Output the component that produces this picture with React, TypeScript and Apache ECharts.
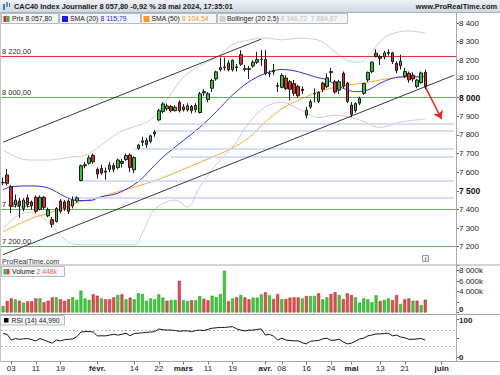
import React, { useEffect, useRef } from 'react';
import * as echarts from 'echarts';

// ---------- DATA ----------
const dates = [
  '2023-12-29',
  '2024-01-02', '2024-01-03', '2024-01-04', '2024-01-05',
  '2024-01-08', '2024-01-09', '2024-01-10', '2024-01-11', '2024-01-12',
  '2024-01-15', '2024-01-16', '2024-01-17', '2024-01-18', '2024-01-19',
  '2024-01-22', '2024-01-23', '2024-01-24', '2024-01-25', '2024-01-26',
  '2024-01-29', '2024-01-30', '2024-01-31', '2024-02-01', '2024-02-02',
  '2024-02-05', '2024-02-06', '2024-02-07', '2024-02-08', '2024-02-09',
  '2024-02-12', '2024-02-13', '2024-02-14', '2024-02-15', '2024-02-16',
  '2024-02-19', '2024-02-20', '2024-02-21', '2024-02-22', '2024-02-23',
  '2024-02-26', '2024-02-27', '2024-02-28', '2024-02-29', '2024-03-01',
  '2024-03-04', '2024-03-05', '2024-03-06', '2024-03-07', '2024-03-08',
  '2024-03-11', '2024-03-12', '2024-03-13', '2024-03-14', '2024-03-15',
  '2024-03-18', '2024-03-19', '2024-03-20', '2024-03-21', '2024-03-22',
  '2024-03-25', '2024-03-26', '2024-03-27', '2024-03-28',
  '2024-04-02', '2024-04-03', '2024-04-04', '2024-04-05',
  '2024-04-08', '2024-04-09', '2024-04-10', '2024-04-11', '2024-04-12',
  '2024-04-15', '2024-04-16', '2024-04-17', '2024-04-18', '2024-04-19',
  '2024-04-22', '2024-04-23', '2024-04-24', '2024-04-25', '2024-04-26',
  '2024-04-29', '2024-04-30', '2024-05-02', '2024-05-03',
  '2024-05-06', '2024-05-07', '2024-05-08', '2024-05-09', '2024-05-10',
  '2024-05-13', '2024-05-14', '2024-05-15', '2024-05-16', '2024-05-17',
  '2024-05-20', '2024-05-21', '2024-05-22', '2024-05-23', '2024-05-24',
  '2024-05-27', '2024-05-28',
  '2024-05-29', '2024-05-30', '2024-05-31', '2024-06-03', '2024-06-04', '2024-06-05', '2024-06-06',
];

const opens = [
  7545, 7585, 7522, 7425, 7445, 7405, 7462, 7440, 7465, 7400,
  7465, 7365, 7345, 7335, 7445, 7440, 7445, 7418, 7445, 7555,
  7634, 7648, 7690, 7615, 7620, 7600, 7615, 7635, 7625, 7658,
  7668, 7692, 7612, 7728, 7760, 7770, 7765, 7805, 7880, 7925,
  7940, 7952, 7930, 7975, 7950, 7935, 7952, 7935, 7920, 8025,
  7990, 8050, 8100, 8150, 8160, 8185, 8150, 8165, 8230, 8155,
  8155, 8170, 8190, 8204, 8205, 8128, 8145, 8065, 8055, 8105,
  8085, 8075, 8060, 8038, 7905, 7950, 8020, 7980, 8077, 8059,
  8135, 8085, 8040, 8130, 8077, 7960, 7930, 7970, 8023, 8095,
  8139, 8238, 8220, 8218, 8242, 8240, 8184, 8172, 8115, 8130,
  8120, 8060, 8080, 8135,
];
const highs = [
  7570, 7617, 7530, 7480, 7462, 7460, 7480, 7448, 7475, 7475,
  7472, 7410, 7360, 7412, 7455, 7450, 7455, 7470, 7470, 7640,
  7655, 7690, 7700, 7625, 7640, 7625, 7655, 7650, 7672, 7670,
  7700, 7700, 7685, 7752, 7790, 7785, 7800, 7825, 7940, 7975,
  7968, 7960, 7960, 7985, 7965, 7970, 7960, 7970, 8030, 8045,
  8030, 8100, 8145, 8215, 8215, 8200, 8205, 8180, 8255, 8175,
  8170, 8200, 8246, 8255, 8255, 8145, 8180, 8080, 8130, 8120,
  8095, 8095, 8070, 8060, 7950, 7990, 8050, 8035, 8085, 8130,
  8160, 8095, 8095, 8140, 8085, 7975, 7975, 8005, 8080, 8140,
  8195, 8260, 8229, 8250, 8259, 8245, 8195, 8230, 8160, 8140,
  8135, 8100, 8140, 8150,
];
const lows = [
  7530, 7528, 7381, 7410, 7355, 7390, 7410, 7398, 7380, 7395,
  7400, 7358, 7303, 7330, 7378, 7392, 7375, 7405, 7435, 7550,
  7620, 7640, 7645, 7565, 7585, 7560, 7600, 7600, 7615, 7625,
  7660, 7600, 7595, 7720, 7740, 7730, 7755, 7790, 7875, 7915,
  7930, 7920, 7925, 7920, 7925, 7925, 7915, 7920, 7915, 8010,
  7975, 8030, 8090, 8140, 8145, 8140, 8140, 8140, 8170, 8140,
  8100, 8160, 8180, 8170, 8120, 8110, 8120, 8030, 8050, 8040,
  7985, 8010, 8000, 8020, 7890, 7940, 7975, 7970, 8030, 8050,
  8085, 8020, 8020, 8050, 7970, 7895, 7920, 7960, 8015, 8085,
  8130, 8215, 8175, 8205, 8225, 8180, 8130, 8150, 8105, 8080,
  8085, 8050, 8075, 8045,
];
const closes = [
  7543, 7540, 7416, 7450, 7420, 7450, 7426, 7420, 7390, 7465,
  7411, 7398, 7320, 7405, 7390, 7405, 7390, 7450, 7462, 7634,
  7640, 7677, 7656, 7590, 7595, 7605, 7638, 7615, 7665, 7647,
  7689, 7625, 7678, 7745, 7768, 7748, 7795, 7815, 7930, 7966,
  7955, 7930, 7948, 7930, 7934, 7956, 7930, 7958, 8020, 8032,
  8020, 8092, 8138, 8161, 8164, 8150, 8200, 8161, 8179, 8152,
  8151, 8190, 8204, 8206, 8130, 8131, 8138, 8061, 8119, 8048,
  8045, 8023, 8010, 8045, 7932, 7978, 8023, 8028, 8045, 8106,
  8140, 8030, 8085, 8060, 7980, 7910, 7968, 7996, 8075, 8135,
  8190, 8220, 8211, 8240, 8238, 8193, 8145, 8195, 8140, 8095,
  8100, 8094, 8132.5, 8057.8,
];

// volume in thousands
const volumes = [
  1250, 2200, 2700, 2500, 2260, 1880, 2140, 2140, 2700, 2700,
  1950, 2260, 2900, 2900, 2530, 2260, 2530, 2900, 2400, 4180,
  2700, 2400, 3480, 3220, 2700, 2530, 2530, 2900, 3350, 3480,
  2530, 2850, 2530, 3680, 3540, 2260, 2700, 2530, 3480, 2850,
  2260, 2400, 2400, 6090, 2330, 2200, 2330, 2330, 3160, 2640,
  2330, 3220, 2900, 3540, 8000, 2140, 2700, 2900, 3350, 2900,
  2530, 2850, 2850, 3480, 3870, 3290, 2580, 3540, 2580, 2580,
  2850, 2900, 2900, 2700, 3160, 3160, 3160, 3680, 2530, 2900,
  3540, 3870, 3350, 2580, 3680, 3350, 2900, 1880, 2700, 2530,
  1950, 3290, 2200, 2400, 2700, 2400, 3350, 1630, 2530, 2700,
  2260, 2260, 1440, 2448,
];
// 1 = green volume bar, 0 = red volume bar
const volumeUp = [
  1, 0, 0, 1, 0, 1, 0, 0, 0, 1,
  0, 0, 0, 1, 0, 0, 0, 1, 1, 1,
  1, 1, 0, 0, 1, 0, 0, 0, 1, 0,
  1, 0, 1, 1, 1, 1, 1, 1, 1, 1,
  0, 1, 1, 0, 1, 1, 0, 1, 1, 0,
  0, 1, 1, 1, 1, 0, 1, 0, 1, 0,
  0, 1, 1, 1, 0, 1, 0, 0, 1, 0,
  0, 0, 0, 1, 0, 1, 1, 0, 1, 1,
  0, 0, 1, 0, 0, 0, 1, 1, 1, 1,
  1, 1, 0, 1, 1, 0, 0, 1, 0, 0,
  1, 0, 1, 0,
];

const rsi = [
  62, 60, 45, 49, 47, 48, 49, 46, 43, 49,
  45, 41, 37, 45, 43, 46, 47, 48, 54, 66,
  67, 67, 66, 56, 56, 56, 58, 60, 58, 60,
  63, 56, 62, 63, 64, 65, 66, 67, 74, 72,
  71, 71, 70, 68, 69, 69, 67, 70, 71, 70,
  73, 76, 77, 78, 78, 79, 80, 74, 71, 69,
  71, 71, 73, 74, 58, 60, 55, 45, 50, 45,
  44, 43, 43, 38, 35, 42, 43, 44, 48, 50,
  44, 45, 47, 40, 35, 37, 42, 48, 50, 56,
  58, 61, 61, 62, 63, 56, 58, 53, 51, 47,
  47, 48, 49, 44.99,
];

// indicator curves: [bar index, value]
const sma20 = [
  [0, 7505], [2, 7522], [7, 7526], [11, 7515], [15, 7470], [18, 7448], [21, 7447],
  [24, 7468], [28, 7487], [33, 7549], [36, 7615], [38, 7660], [40, 7700], [44, 7770],
  [48, 7840], [52, 7924], [56, 8014], [60, 8085], [64, 8130], [68, 8151], [72, 8139],
  [76, 8112], [79, 8095], [82, 8059], [84, 8041], [86, 8032], [89, 8041], [92, 8077],
  [95, 8104], [98, 8112], [101, 8112], [103, 8115.79],
];
const sma50 = [
  [0, 7280], [7, 7353], [11, 7379], [15, 7412], [19, 7442], [24, 7468], [28, 7495],
  [32, 7519], [38, 7562], [44, 7615], [48, 7652], [52, 7690], [55, 7719], [60, 7785],
  [64, 7870], [68, 7940], [72, 7985], [76, 8023], [80, 8050], [84, 8068], [88, 8077],
  [92, 8095], [96, 8107], [100, 8112], [103, 8104.54],
];
const bbUpper = [
  [0, 7719], [4, 7675], [7, 7665], [11, 7665], [16, 7680], [20, 7690], [24, 7745],
  [28, 7810], [32, 7845], [36, 7880], [40, 7990], [44, 8110], [48, 8170], [52, 8215],
  [56, 8285], [60, 8309], [64, 8320], [68, 8310], [72, 8318], [77, 8308], [81, 8245],
  [84, 8200], [87, 8190], [90, 8250], [93, 8320], [96, 8350], [99, 8357], [103, 8346.72],
];
const bbLower = [
  [0, 7300], [4, 7372], [7, 7385], [11, 7330], [16, 7225], [20, 7210], [24, 7210],
  [32, 7210], [34, 7273], [37, 7400], [42, 7450], [45, 7413], [48, 7520], [52, 7640],
  [56, 7735], [60, 7864], [64, 7950], [68, 7975], [72, 7940], [77, 7893], [81, 7905],
  [87, 7880], [92, 7840], [97, 7869], [103, 7884.87],
];

// drawn levels
const keyLevels = [8220, 8000, 7400, 7200];
const keyLevelIsResistance = [true, false, false, false];
const supportStartDates = ['2024-02-22', '2024-02-21', '2024-02-14', '2024-02-27', '2024-01-26', '2024-01-24'];
const supportPrices = [7857, 7821, 7728, 7683, 7554, 7465];
const channelUpper = [['2023-12-29', 7761], ['2024-03-28', 8314]];
const channelLower = [['2023-12-29', 7157], ['2024-06-06', 8120]];
const arrowPath = [['2024-05-28', 8057.8], ['2024-06-03', 7885]];

const tickLabels: Record<string, string> = {
  '2024-01-03': '03', '2024-01-11': '11', '2024-01-19': '19', '2024-02-01': 'févr.',
  '2024-02-14': '14', '2024-02-22': '22', '2024-03-01': 'mars', '2024-03-11': '11',
  '2024-03-19': '19', '2024-04-02': 'avr.', '2024-04-08': '08', '2024-04-16': '16',
  '2024-04-24': '24', '2024-05-02': 'mai', '2024-05-13': '13', '2024-05-21': '21',
  '2024-06-03': 'juin',
};
const monthNames = ['févr.', 'mars', 'avr.', 'mai', 'juin'];

// ---------- helpers ----------
const FONT = '"Liberation Sans", Arial, Helvetica, sans-serif';

function fmt(v: number, dec = 0): string {
  const s = Math.abs(v).toFixed(dec);
  const parts = s.split('.');
  const int = parts[0].replace(/\B(?=(\d{3})+(?!\d))/g, ' ');
  return (v < 0 ? '-' : '') + (parts[1] ? int + ',' + parts[1] : int);
}

function buildOption(): any {
  const last = closes.length - 1;
  const lastClose = closes[last];
  const pct = (lastClose / closes[last - 1] - 1) * 100;
  const lastOf = (a: number[][]) => a[a.length - 1][1];

  const GREEN = '#33c433';
  const RED = '#e02a2a';
  const LEG = 6.8;

  const T = (x: number, y: number, text: string, extra: any = {}) => ({
    type: 'text', x, y, z: 101, silent: true,
    style: { text, fontSize: LEG, fontFamily: FONT, fill: '#222', verticalAlign: 'middle', align: 'left', ...extra },
  });
  const RT = (x: number, y: number, text: string, rich: any) => ({
    type: 'text', x, y, z: 101, silent: true,
    style: { text, fontSize: LEG, fontFamily: FONT, fill: '#222', verticalAlign: 'middle', align: 'left', rich },
  });
  const R = (x: number, y: number, w: number, h: number, style: any) => ({
    type: 'rect', z: 100, silent: true, shape: { x, y, width: w, height: h }, style,
  });
  const L = (x1: number, y1: number, x2: number, y2: number, stroke: string) => ({
    type: 'line', z: 100, silent: true, shape: { x1, y1, x2, y2 }, style: { stroke, lineWidth: 1 },
  });
  const boxStyle = { fill: '#f4f5f6', stroke: '#b3bbc3', lineWidth: 1 };
  const rs = (fill: string) => ({ fill, fontSize: LEG, fontFamily: FONT });

  const graphics: any[] = [
    // title bar
    R(0, 0, 500, 12, {
      fill: { type: 'linear', x: 0, y: 0, x2: 0, y2: 1, colorStops: [{ offset: 0, color: '#eef2f6' }, { offset: 1, color: '#cfd8e1' }] },
    }),
    L(0, 12.5, 500, 12.5, '#a9b3bd'),
    R(3, 4, 2, 6, { fill: '#3d74c0' }),
    R(6, 2, 2, 5, { fill: '#5a8fd6' }),
    R(9, 3, 1, 4, { fill: '#3d74c0' }),
    T(14, 6.5, `CAC40 Index Journalier ${fmt(lastClose, 2)} ${fmt(pct, 2)} % 28 mai 2024, 17:35:01`, { fontWeight: 'bold', fontSize: 7.4, fill: '#1b1b1b' }),
    T(497, 6.5, 'www.ProRealTime.com', { fontWeight: 'bold', fontSize: 7.4, fill: '#1b1b1b', align: 'right' }),

    // legend row
    R(1.5, 13.5, 57, 10, boxStyle),
    R(3.5, 16, 3, 6, { fill: '#d42a2a' }),
    R(6.5, 16, 3, 6, { fill: '#3cb83c' }),
    T(12, 18.8, `Prix ${fmt(lastClose, 2)}`),
    R(59.5, 13.5, 81, 10, boxStyle),
    R(62, 16, 6, 6, { fill: '#1a1aff' }),
    RT(70, 18.8, `{a|SMA (20)} {b|${fmt(lastOf(sma20), 2)}}`, { a: rs('#222'), b: rs('#2323ff') }),
    R(141.5, 13.5, 75, 10, boxStyle),
    R(143.5, 16, 6, 6, { fill: '#ff9a1a' }),
    RT(151.5, 18.8, `{a|SMA (50)} {b|${fmt(lastOf(sma50), 2)}}`, { a: rs('#222'), b: rs('#f39a27') }),
    R(217.5, 13.5, 130, 10, boxStyle),
    R(219.5, 16, 6, 6, { fill: '#d0d0d0' }),
    RT(227, 18.8, `{a|Bollinger (20 2,5)} {b|${fmt(lastOf(bbUpper), 2)}  ${fmt(lastOf(bbLower), 2)}}`, { a: rs('#222'), b: rs('#c2c2c2') }),

    // watermark + info icon
    T(2, 261.5, 'ProRealTime.com', { fontSize: 7.2, fill: '#333', z: 90 }),
    R(422.5, 255.5, 6, 6, { fill: '#eeeeee', stroke: '#9a9a9a', lineWidth: 1 }),
    T(425.5, 258.8, 'i', { fontSize: 6, fill: '#777', align: 'center', fontWeight: 'bold' }),

    // volume legend
    R(1.5, 266.5, 63, 10, boxStyle),
    R(3.5, 269, 3, 5.5, { fill: '#3cb83c' }),
    R(6.5, 269, 3, 5.5, { fill: '#d84444' }),
    RT(12, 271.8, `{a|Volume} {b|${fmt(volumes[volumes.length - 1], 0)}k}`, { a: rs('#222'), b: rs('#e46a6a') }),

    // RSI legend
    R(0.5, 315.5, 64, 9.5, boxStyle),
    R(4, 318, 4.5, 4.5, { fill: '#000' }),
    T(11.5, 320.5, `RSI (14) ${fmt(rsi[rsi.length - 1], 3)}`),

    // panel separators / frames
    L(0, 265, 500, 265, '#a8a8a8'),
    L(0, 314.5, 500, 314.5, '#a8a8a8'),
    L(456, 361.5, 500, 361.5, '#a8a8a8'),
    L(456.5, 12.5, 456.5, 362, '#a8a8a8'),
    L(0.5, 12.5, 0.5, 362, '#c4c4c4'),
  ];

  const xCat = (gridIndex: number) => ({
    type: 'category', gridIndex, data: dates, boundaryGap: true,
    axisLine: { show: false }, axisTick: { show: false }, axisLabel: { show: false }, splitLine: { show: false },
  });
  const tickFilter = (_i: number, v: string) => !!tickLabels[v];

  const guideLines: any[] = [];
  keyLevels.forEach((lv, i) => {
    guideLines.push({
      yAxis: lv,
      lineStyle: { color: keyLevelIsResistance[i] ? '#e63232' : '#62b062', width: 1, type: 'solid' },
      label: {
        show: true, position: 'insideStartTop', distance: [1, 1], formatter: fmt(lv, 2),
        fontSize: 7.5, color: '#2a2a2a', fontFamily: FONT,
      },
    });
  });
  supportStartDates.forEach((d, i) => {
    guideLines.push([
      { coord: [d, supportPrices[i]], lineStyle: { color: '#c7d5f6', width: 1.5, type: 'solid' }, label: { show: false } },
      { coord: ['2024-06-06', supportPrices[i]] },
    ]);
  });
  [channelUpper, channelLower].forEach((c) => {
    guideLines.push([
      { coord: c[0], lineStyle: { color: '#3a3a3a', width: 1, type: 'solid' }, label: { show: false } },
      { coord: c[1] },
    ]);
  });

  return {
    animation: false,
    textStyle: { fontFamily: FONT },
    grid: [
      { left: 1, right: 44, top: 4.42, height: 260.9 },
      { left: 1, right: 44, top: 265.5, height: 47 },
      { left: 1, right: 44, top: 319, height: 38.3 },
      { left: 1, right: 44, top: 355, height: 6.5 },
    ],
    xAxis: [
      xCat(0), xCat(1), xCat(2),
      {
        type: 'category', gridIndex: 3, data: dates, boundaryGap: true,
        axisLine: { show: true, lineStyle: { color: '#a8a8a8', width: 1 } },
        axisTick: { show: true, interval: tickFilter, alignWithLabel: true, length: 3, lineStyle: { color: '#777' } },
        axisLabel: {
          show: true, interval: tickFilter, margin: 3, fontSize: 8, color: '#222', fontFamily: FONT,
          formatter: (v: string) => {
            const t = tickLabels[v] || '';
            return monthNames.includes(t) ? `{m|${t}}` : t;
          },
          rich: { m: { fontWeight: 'bold', fontSize: 8, color: '#222', fontFamily: FONT } },
        },
        splitLine: { show: false },
      },
    ],
    yAxis: [
      {
        type: 'value', gridIndex: 0, position: 'right', min: 7100, max: 8500, interval: 100,
        splitLine: { show: false }, axisLine: { show: false },
        axisTick: { show: true, length: 3, lineStyle: { color: '#666' } },
        axisLabel: {
          fontSize: 8, color: '#222', margin: 3, fontFamily: FONT,
          formatter: (v: number) => {
            if (v <= 7100 || v >= 8500) return '';
            if (v === 8100) return `{u|${fmt(v)}}`;
            return v === 8000 || v === 7500 ? `{b|${fmt(v)}}` : fmt(v);
          },
          rich: {
            b: { fontWeight: 'bold', fontSize: 8.5, color: '#111', fontFamily: FONT },
            u: { fontSize: 8, color: '#222', fontFamily: FONT, padding: [0, 0, 3, 0] },
          },
        },
      },
      {
        type: 'value', gridIndex: 1, position: 'right', min: 0, max: 9000, interval: 2000,
        splitLine: { show: false }, axisLine: { show: false },
        axisTick: { show: true, length: 3, lineStyle: { color: '#666' } },
        axisLabel: {
          fontSize: 8, color: '#222', margin: 3, fontFamily: FONT,
          formatter: (v: number) => (v === 0 ? '{z|0}' : v >= 4000 && v <= 8000 ? `${fmt(v)}k` : ''),
          rich: { z: { fontSize: 8, color: '#222', fontWeight: 'bold', fontFamily: FONT, padding: [0, 0, 7, 0] } },
        },
      },
      {
        type: 'value', gridIndex: 2, position: 'right', min: 0, max: 100, interval: 50,
        splitLine: { show: false }, axisLine: { show: false },
        axisTick: { show: true, length: 3, lineStyle: { color: '#666' } },
        axisLabel: {
          fontSize: 8, color: '#222', margin: 3, fontFamily: FONT,
          formatter: (v: number) => (v === 100 ? `{t|${v}}` : v === 0 ? `{b|${v}}` : ''),
          rich: {
            b: { fontWeight: 'bold', fontSize: 8, color: '#222', fontFamily: FONT },
            t: { fontWeight: 'bold', fontSize: 8, color: '#222', fontFamily: FONT, padding: [2, 0, 0, 0] },
          },
        },
      },
      { type: 'value', gridIndex: 3, show: false, min: 0, max: 1 },
    ],
    graphic: { elements: graphics },
    series: [
      {
        type: 'line', xAxisIndex: 0, yAxisIndex: 0, data: [], z: 1, silent: true,
        markLine: { silent: true, symbol: ['none', 'none'], label: { show: false }, data: guideLines },
      },
      {
        type: 'line', xAxisIndex: 0, yAxisIndex: 0, data: bbUpper, showSymbol: false, smooth: 0.35, z: 2, silent: true,
        lineStyle: { color: '#cecece', width: 1 },
      },
      {
        type: 'line', xAxisIndex: 0, yAxisIndex: 0, data: bbLower, showSymbol: false, smooth: 0.35, z: 2, silent: true,
        lineStyle: { color: '#cecece', width: 1 },
      },
      {
        type: 'line', xAxisIndex: 0, yAxisIndex: 0, data: sma50, showSymbol: false, smooth: 0.35, z: 3, silent: true,
        lineStyle: { color: '#ffa733', width: 1 },
      },
      {
        type: 'line', xAxisIndex: 0, yAxisIndex: 0, data: sma20, showSymbol: false, smooth: 0.35, z: 3, silent: true,
        lineStyle: { color: '#2f2ff0', width: 1 },
      },
      {
        type: 'candlestick', xAxisIndex: 0, yAxisIndex: 0, z: 5, barWidth: 3, silent: true,
        data: opens.map((o, i) => [o, closes[i], lows[i], highs[i]]),
        itemStyle: { color: GREEN, color0: RED, borderColor: '#1c1c1c', borderColor0: '#1c1c1c', borderWidth: 1 },
      },
      {
        type: 'line', xAxisIndex: 0, yAxisIndex: 0, data: [], z: 10, silent: true,
        markLine: {
          silent: true, symbol: ['none', 'none'],
          data: [
            [
              { coord: arrowPath[0], symbol: 'none', lineStyle: { color: '#ee2020', width: 1.5, type: 'solid' }, label: { show: false } },
              { coord: arrowPath[1], symbol: 'arrow', symbolSize: 8 },
            ],
            {
              yAxis: lastClose, lineStyle: { width: 0, opacity: 0 },
              label: {
                show: true, position: 'end', distance: 1.5, formatter: fmt(lastClose, 2),
                backgroundColor: '#ffd400', borderColor: '#c9a800', borderWidth: 1, padding: [1, 2, 0, 2],
                lineHeight: 8.5, fontWeight: 'bold', fontSize: 8.5, color: '#000', fontFamily: FONT,
              },
            },
          ],
        },
      },
      {
        type: 'bar', xAxisIndex: 1, yAxisIndex: 1, barWidth: 3, z: 5, silent: true,
        data: volumes.map((v, i) => ({
          value: v,
          itemStyle: volumeUp[i]
            ? { color: '#3ccc3c', borderColor: '#1f951f', borderWidth: 0.5 }
            : { color: '#e25050', borderColor: '#a82424', borderWidth: 0.5 },
        })),
        markLine: {
          silent: true, symbol: ['none', 'none'],
          data: [{
            yAxis: volumes[volumes.length - 1], lineStyle: { width: 0, opacity: 0 },
            label: {
              show: true, position: 'end', distance: 1.5, formatter: `${fmt(volumes[volumes.length - 1])}k`,
              backgroundColor: '#ffffff', borderColor: '#a0a0a0', borderWidth: 1, padding: [1, 2, 0, 2],
              lineHeight: 8, fontSize: 8, color: '#e25a5a', fontFamily: FONT,
            },
          }],
        },
      },
      {
        type: 'line', xAxisIndex: 2, yAxisIndex: 2, data: rsi, showSymbol: false, z: 5, silent: true,
        lineStyle: { color: '#151515', width: 1 },
        markLine: {
          silent: true, symbol: ['none', 'none'],
          data: [
            { yAxis: 70, lineStyle: { color: '#b4b4b4', width: 1, type: [2, 2] }, label: { show: false } },
            { yAxis: 30, lineStyle: { color: '#b4b4b4', width: 1, type: [2, 2] }, label: { show: false } },
            {
              yAxis: rsi[rsi.length - 1], lineStyle: { width: 0, opacity: 0 },
              label: {
                show: true, position: 'end', distance: 1.5, formatter: fmt(rsi[rsi.length - 1], 3),
                backgroundColor: '#ffffff', borderColor: '#a0a0a0', borderWidth: 1, padding: [1, 2, 0, 2],
                lineHeight: 8, fontSize: 8, color: '#222', fontFamily: FONT,
              },
            },
          ],
        },
      },
    ],
  };
}

export default function App() {
  const ref = useRef<HTMLDivElement>(null);
  useEffect(() => {
    document.body.style.margin = '0';
    const el = ref.current;
    if (!el) return;
    const chart = echarts.init(el, null, { renderer: 'svg' });
    chart.setOption(buildOption());
    return () => chart.dispose();
  }, []);
  return (
    <div
      ref={ref}
      style={{ position: 'fixed', left: 0, top: 0, width: 500, height: 375, background: '#ffffff' }}
    />
  );
}
